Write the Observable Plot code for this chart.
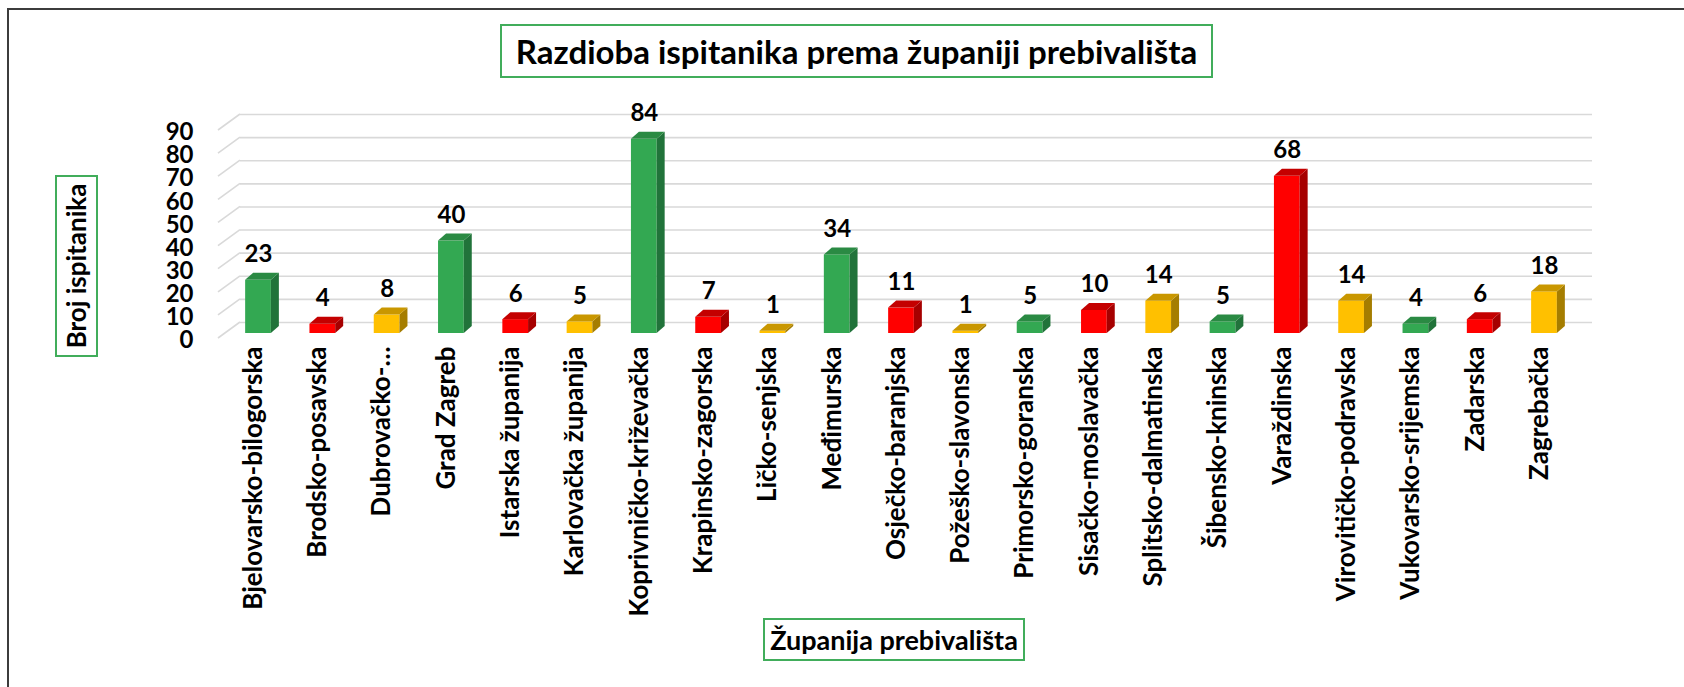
<!DOCTYPE html>
<html>
<head>
<meta charset="utf-8">
<script src="https://cdn.jsdelivr.net/npm/d3@7"></script>
<script src="https://cdn.jsdelivr.net/npm/@observablehq/plot@0.6"></script>
<style>
  html, body { margin: 0; padding: 0; background: #fff; overflow: hidden; }
  #wrap { position: relative; width: 1684px; height: 687px; font-family: Lato, "Open Sans", sans-serif; font-weight: 700; color: #000; }
  #chart { position: absolute; left: 0; top: 0; }
  .frame { position: absolute; left: 7px; top: 8px; width: 1690px; height: 690px; border-left: 2px solid #3c3c3c; border-top: 2px solid #3c3c3c; }
  .box { position: absolute; border: 2.5px solid #41ad5b; background: #fff; box-sizing: border-box; display: flex; align-items: center; justify-content: center; white-space: nowrap; }
  #title { left: 500px; top: 24px; width: 713px; height: 54px; font-size: 33px; }
  #ytitle { left: 55px; top: 175px; width: 43px; height: 182px; font-size: 26px; }
  #ytitle span { transform: rotate(-90deg); display: inline-block; }
  #xtitle { left: 763px; top: 618px; width: 262px; height: 43px; font-size: 27px; }
</style>
</head>
<body>
<div id="wrap">
  <div class="frame"></div>
  <div id="chart"></div>
  <div class="box" id="title">Razdioba ispitanika prema županiji prebivališta</div>
  <div class="box" id="ytitle"><span>Broj ispitanika</span></div>
  <div class="box" id="xtitle">Županija prebivališta</div>
</div>
<script>
// ---- data ----
const counties = [
  "Bjelovarsko-bilogorska", "Brodsko-posavska", "Dubrovačko-…", "Grad Zagreb",
  "Istarska županija", "Karlovačka županija", "Koprivničko-križevačka", "Krapinsko-zagorska",
  "Ličko-senjska", "Međimurska", "Osječko-baranjska", "Požeško-slavonska",
  "Primorsko-goranska", "Sisačko-moslavačka", "Splitsko-dalmatinska", "Šibensko-kninska",
  "Varaždinska", "Virovitičko-podravska", "Vukovarsko-srijemska", "Zadarska", "Zagrebačka"
];
const respondents = [23, 4, 8, 40, 6, 5, 84, 7, 1, 34, 11, 1, 5, 10, 14, 5, 68, 14, 4, 6, 18];
const groups = ["G","R","Y","G","R","Y","G","R","Y","G","R","Y","G","R","Y","G","R","Y","G","R","Y"];
const yTicks = [0, 10, 20, 30, 40, 50, 60, 70, 80, 90];

// ---- styling ----
const groupDomain = ["G", "R", "Y"];
const frontColors = ["#33a852", "#ff0000", "#ffc000"];
const topColors   = ["#2a8a43", "#c40000", "#c99700"];
const sideColors  = ["#21733a", "#a60000", "#a57d00"];
const shade = (arr, g) => arr[groupDomain.indexOf(g)];

const rows = counties.map((c, i) => ({county: c, value: respondents[i], group: groups[i]}));

const DX = 8, DY = 7;   // bar depth
const WX = 22, WY = 16; // wall depth

function wallDiagonals(index, scales, values, dim) {
  const g = d3.create("svg:g").attr("stroke", "#d9d9d9").attr("stroke-width", 1.6);
  const x0 = dim.marginLeft + 5;
  for (const t of yTicks) {
    const yy = scales.y(t);
    g.append("line").attr("x1", x0).attr("y1", yy + 5).attr("x2", x0 + WX).attr("y2", yy + 5 - WY);
  }
  return g.node();
}

function barFaces(index, scales) {
  const g = d3.create("svg:g");
  const bw = scales.x.bandwidth();
  for (const d of rows) {
    const x0 = scales.x(d.county), x1 = x0 + bw;
    const yt = scales.y(d.value), yb = scales.y(0);
    g.append("path")
      .attr("d", `M${x1},${yt}L${x1 + DX},${yt - DY}L${x1 + DX},${yb - DY}L${x1},${yb}Z`)
      .attr("fill", shade(sideColors, d.group));
    g.append("path")
      .attr("d", `M${x0},${yt}L${x0 + DX},${yt - DY}L${x1 + DX},${yt - DY}L${x1},${yt}Z`)
      .attr("fill", shade(topColors, d.group));
  }
  return g.node();
}

const chart = Plot.plot({
  width: 1684,
  height: 687,
  marginLeft: 213,
  marginRight: 95,
  marginTop: 125,
  marginBottom: 354,
  style: {fontFamily: "Lato, 'Open Sans', sans-serif", fontSize: "24px", fontWeight: 700, color: "#000", background: "transparent", overflow: "visible"},
  x: {type: "band", domain: counties, paddingInner: 0.6, paddingOuter: 0.5, round: false, axis: null},
  y: {domain: [0, 90], axis: null},
  color: {type: "ordinal", domain: groupDomain, range: frontColors},
  marks: [
    Plot.ruleY(yTicks, {y: d => d, dx: 15, dy: -11, insetLeft: 12, insetRight: 12, stroke: "#d9d9d9", strokeWidth: 1.6}),
    wallDiagonals,
    Plot.barY(rows, {x: "county", y: "value", fill: "group"}),
    barFaces,
    Plot.text(rows, {x: "county", y: "value", text: d => String(d.value), lineAnchor: "bottom", dy: -18, fill: "#000", fontSize: 24}),
    Plot.text(yTicks, {y: d => d, text: d => String(d), frameAnchor: "left", textAnchor: "end", dx: -20, dy: 7, fill: "#000", fontSize: 24}),
    Plot.text(counties, {x: d => d, text: d => d, frameAnchor: "bottom", rotate: -90, textAnchor: "end", lineAnchor: "middle", dy: 13, dx: -5, fill: "#000", fontSize: 26})
  ]
});
document.getElementById("chart").appendChild(chart);
</script>
</body>
</html>
